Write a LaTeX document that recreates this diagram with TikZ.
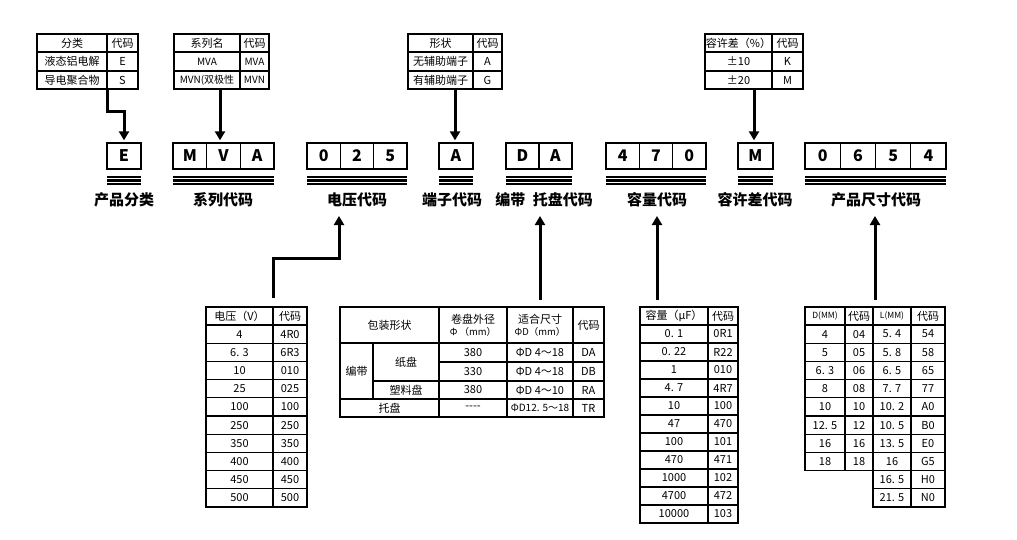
\documentclass[tikz,border=0pt]{standalone}
\usepackage{fontspec}
\setmainfont{Noto Sans CJK SC}
\usetikzlibrary{arrows.meta}
\newcounter{tc}
\tikzset{
  tcellst/.style={draw, line width=1.2pt, inner sep=0pt, outer sep=0pt, align=center, font=\fontsize{11}{12}\selectfont},
  boxcell/.style={draw, line width=1.3pt, minimum height=26pt, inner sep=0pt, font=\bfseries\fontsize{16}{16}\selectfont},
  lab/.style={font=\bfseries\fontsize{15}{15}\selectfont, inner sep=1pt},
  conn/.style={line width=3pt, -{Triangle[length=9pt,width=10pt]}},
  triple/.style={line width=2.2pt}
}
\newcommand\tcell[5]{\stepcounter{tc}\node[tcellst, minimum width={(#3-#1)*1pt}, minimum height={(#4-#2)*1pt}] (tc\arabic{tc}) at ({(#1+#3)/2},{(#2+#4)/2}) {#5};}
% #1 name, #2 left x, #3 cell width, #4 number of cells, #5 letters
\newcommand\codegroup[5]{%
  \foreach \ch [count=\i from 0] in {#5} {
    \node[boxcell, minimum width=#3pt] (#1\i) at ({#2+(\i+0.5)*#3},156) {\ch};
  }
  \foreach \yy in {177,180.5,184} {\draw[triple] (#2,\yy) -- ({#2+#3*#4},\yy);}
}
\begin{document}
\begin{tikzpicture}[x=1pt,y=-1pt]
\useasboundingbox (0,0) rectangle (1017,540);

% ---------- top tables ----------
\tcell{37}{34}{107}{52}{分类}\tcell{107}{34}{138}{52}{代码}
\tcell{37}{52}{107}{71}{液态铝电解}\tcell{107}{52}{138}{71}{E}
\tcell{37}{71}{107}{89}{导电聚合物}\tcell{107}{71}{138}{89}{S}

\tcell{174}{34}{240}{52}{系列名}\tcell{240}{34}{269}{52}{代码}
\tcell{174}{52}{240}{71}{\fontsize{10}{11}\selectfont MVA}\tcell{240}{52}{269}{71}{\fontsize{10}{11}\selectfont MVA}
\tcell{174}{71}{240}{89}{\fontsize{10}{11}\selectfont MVN(双极性}\tcell{240}{71}{269}{89}{\fontsize{10}{11}\selectfont MVN}

\tcell{408}{34}{473}{52}{形状}\tcell{473}{34}{502}{52}{代码}
\tcell{408}{52}{473}{71}{无辅助端子}\tcell{473}{52}{502}{71}{A}
\tcell{408}{71}{473}{89}{有辅助端子}\tcell{473}{71}{502}{89}{G}

\tcell{705}{34}{772}{52}{容许差（\%）}\tcell{772}{34}{803}{52}{代码}
\tcell{705}{52}{772}{71}{±10}\tcell{772}{52}{803}{71}{K}
\tcell{705}{71}{772}{89}{±20}\tcell{772}{71}{803}{89}{M}

% ---------- code boxes ----------
\codegroup{E}{107}{34}{1}{E}
\codegroup{MVA}{173}{33.67}{3}{M,V,A}
\codegroup{V}{307}{33.33}{3}{0,2,5}
\codegroup{A}{439}{34}{1}{A}
\codegroup{DA}{506}{33}{2}{D,A}
\codegroup{C}{606}{33.33}{3}{4,7,0}
\codegroup{M}{738}{35}{1}{M}
\codegroup{S}{805}{35.25}{4}{0,6,5,4}

% ---------- labels ----------
\node[lab] (l1) at (124,200) {产品分类};
\node[lab] (l2) at (223,200) {系列代码};
\node[lab] (l3) at (357,200) {电压代码};
\node[lab] (l4) at (452,200) {端子代码};
\node[lab] (l5) at (544,200) {编带\hspace{0.5em}托盘代码};
\node[lab] (l6) at (657,200) {容量代码};
\node[lab] (l7) at (755,200) {容许差代码};
\node[lab] (l8) at (876,200) {产品尺寸代码};

% ---------- top connectors ----------
\coordinate (t1b) at (107,89);
\coordinate (t2b) at (220,89);
\coordinate (t3b) at (455,89);
\coordinate (t4b) at (754,89);
\draw[conn, shorten >=2pt] (t1b) -- ++(0,23) -| (E0.north);
\draw[conn, shorten >=2pt] (t2b) -- (t2b |- MVA1.north);
\draw[conn, shorten >=2pt] (t3b) -- (t3b |- A0.north);
\draw[conn, shorten >=2pt] (t4b) -- (t4b |- M0.north);

% ---------- bottom connectors ----------
\coordinate (vb) at (273,298);
\coordinate (vtip) at (339,216);
\coordinate (pb) at (540,300);
\coordinate (ptip) at (540,216);
\coordinate (cb) at (657,300);
\coordinate (ctip) at (657,216);
\coordinate (sb) at (875,300);
\coordinate (stip) at (875,216);
\draw[conn] (vb) -- ++(0,-40) -| (vtip);
\draw[conn] (pb) -- (ptip);
\draw[conn] (cb) -- (ctip);
\draw[conn] (sb) -- (stip);

% ---------- voltage table ----------
\tcell{206}{307}{273}{325}{电压（V）}\tcell{273}{307}{307}{325}{代码}
\foreach \v/\c [count=\k from 0] in {4/4R0, 6. 3/6R3, 10/010, 25/025, 100/100, 250/250, 350/350, 400/400, 450/450, 500/500} {
  \pgfmathsetmacro\ya{325+18.2*\k}\pgfmathsetmacro\yb{\ya+18.2}
  \tcell{206}{\ya}{273}{\yb}{\v}\tcell{273}{\ya}{307}{\yb}{\c}
}

% ---------- packing table ----------
\tcell{340}{307}{439}{343}{包装形状}
\tcell{439}{307}{507}{343}{卷盘外径\\[0pt]\fontsize{9.5}{10}\selectfont Φ （mm）}
\tcell{507}{307}{573}{343}{适合尺寸\\[0pt]\fontsize{9.5}{10}\selectfont ΦD（mm）}
\tcell{573}{307}{604}{343}{代码}
\tcell{340}{343}{373}{399}{编带}
\tcell{373}{343}{439}{381}{纸盘}
\tcell{373}{381}{439}{399}{塑料盘}
\tcell{439}{343}{507}{362}{380}
\tcell{439}{362}{507}{381}{330}
\tcell{439}{381}{507}{399}{380}
\tcell{507}{343}{573}{362}{ΦD 4～18}
\tcell{507}{362}{573}{381}{ΦD 4～18}
\tcell{507}{381}{573}{399}{ΦD 4～10}
\tcell{573}{343}{604}{362}{DA}
\tcell{573}{362}{604}{381}{DB}
\tcell{573}{381}{604}{399}{RA}
\tcell{340}{399}{439}{417}{托盘}
\tcell{439}{399}{507}{417}{-{}-{}-{}-}
\tcell{507}{399}{573}{417}{\fontsize{10}{11}\selectfont ΦD12. 5～18}
\tcell{573}{399}{604}{417}{TR}

% ---------- capacity table ----------
\tcell{640}{307}{708}{325}{容量（μF）}\tcell{708}{307}{738}{325}{代码}
\foreach \v/\c [count=\k from 0] in {0. 1/0R1, 0. 22/R22, 1/010, 4. 7/4R7, 10/100, 47/470, 100/101, 470/471, 1000/102, 4700/472, 10000/103} {
  \pgfmathsetmacro\ya{325+18*\k}\pgfmathsetmacro\yb{\ya+18}
  \tcell{640}{\ya}{708}{\yb}{\v}\tcell{708}{\ya}{738}{\yb}{\c}
}

% ---------- size table ----------
\tcell{805}{307}{845}{325}{\fontsize{8.5}{9}\selectfont D(MM)}\tcell{845}{307}{873}{325}{代码}
\tcell{873}{307}{911}{325}{\fontsize{8.5}{9}\selectfont L(MM)}\tcell{911}{307}{945}{325}{代码}
\foreach \d/\dc/\l/\lc [count=\k from 0] in {4/04/5. 4/54, 5/05/5. 8/58, 6. 3/06/6. 5/65, 8/08/7. 7/77, 10/10/10. 2/A0, 12. 5/12/10. 5/B0, 16/16/13. 5/E0, 18/18/16/G5} {
  \pgfmathsetmacro\ya{325+18.2*\k}\pgfmathsetmacro\yb{\ya+18.2}
  \tcell{805}{\ya}{845}{\yb}{\d}\tcell{845}{\ya}{873}{\yb}{\dc}
  \tcell{873}{\ya}{911}{\yb}{\l}\tcell{911}{\ya}{945}{\yb}{\lc}
}
\foreach \l/\lc [count=\k from 8] in {16. 5/H0, 21. 5/N0} {
  \pgfmathsetmacro\ya{325+18.2*\k}\pgfmathsetmacro\yb{\ya+18.2}
  \tcell{873}{\ya}{911}{\yb}{\l}\tcell{911}{\ya}{945}{\yb}{\lc}
}
\end{tikzpicture}
\end{document}
